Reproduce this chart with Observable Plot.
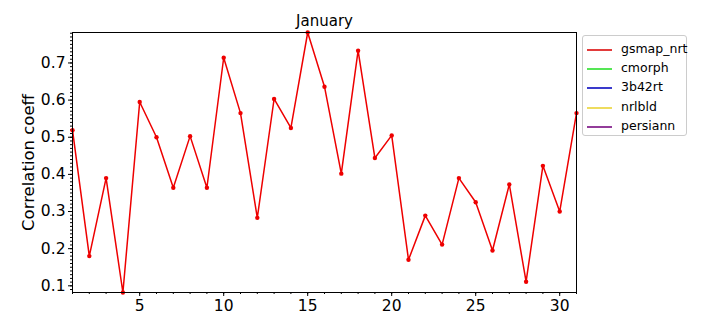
<!DOCTYPE html>
<html>
<head>
<meta charset="utf-8">
<script src="https://cdn.jsdelivr.net/npm/d3@7"></script>
<script src="https://cdn.jsdelivr.net/npm/@observablehq/plot@0.6"></script>
<style>
  html, body { margin: 0; padding: 0; background: #fff; }
  #wrap { position: relative; width: 720px; height: 324px; font-family: "DejaVu Sans", sans-serif; }
  #legend { position: absolute; left: 582px; top: 35px; width: 105px; height: 101px; border: 1px solid #cccccc; border-radius: 3px; background: #fff; box-sizing: border-box; }
  .item { position: absolute; left: 0; height: 19px; font-size: 12.5px; color: #000; }
  .item .sw { position: absolute; left: 4px; top: 9px; width: 25px; height: 2px; }
  .item .lb { position: absolute; left: 38px; top: 1px; white-space: nowrap; }
</style>
</head>
<body>
<div id="wrap"><div id="chart"></div><div id="legend"></div></div>
<script>
const days = d3.range(1, 32);
const gsmapNrt = [0.519, 0.180, 0.390, 0.082, 0.595, 0.500, 0.364, 0.503, 0.364, 0.714,
  0.565, 0.283, 0.603, 0.525, 0.782, 0.636, 0.402, 0.733, 0.444, 0.505,
  0.170, 0.289, 0.211, 0.390, 0.325, 0.195, 0.373, 0.111, 0.423, 0.300, 0.565];
const seriesNames = ["gsmap_nrt", "cmorph", "3b42rt", "nrlbld", "persiann"];
const legendColors = ["#e23b3b", "#55e655", "#3a3acc", "#eedc5e", "#933c9a"];
const xMajorTicks = [5, 10, 15, 20, 25, 30];
const yMajorTicks = [0.1, 0.2, 0.3, 0.4, 0.5, 0.6, 0.7];
const titleText = "January";
const yLabel = "Correlation coeff";

const data = days.map((d, i) => ({day: d, value: gsmapNrt[i]}));
const yMin = d3.min(gsmapNrt), yMax = d3.max(gsmapNrt);
const yMinor = d3.range(Math.ceil(yMin * 100), Math.floor(yMax * 100) + 1).map(v => v / 100);

const chart = Plot.plot({
  width: 720,
  height: 324,
  marginLeft: 72,
  marginRight: 144,
  marginTop: 32,
  marginBottom: 32,
  style: {fontFamily: "DejaVu Sans, sans-serif", fontSize: "15px", color: "#000", background: "#fff"},
  x: {domain: [1, 31]},
  y: {domain: [yMin, yMax]},
  marks: [
    Plot.axisX({ticks: days, tickSize: 2, text: null, label: null}),
    Plot.axisX({ticks: xMajorTicks, tickSize: 4, tickPadding: 3, label: null, fontSize: 15.5}),
    Plot.axisY({ticks: yMinor, tickSize: 2, text: null, label: null}),
    Plot.axisY({ticks: yMajorTicks, tickSize: 4, tickPadding: 3, tickFormat: d3.format(".1f"), label: null, fontSize: 15.5}),
    Plot.text([yLabel], {frameAnchor: "left", dx: -44, rotate: -90, textAnchor: "middle", lineAnchor: "middle", fontSize: 16.5}),
    Plot.text([titleText], {frameAnchor: "top", dy: -7, lineAnchor: "bottom", fontSize: 15}),
    Plot.line(data, {x: "day", y: "value", stroke: "#ee0000", strokeWidth: 1.5}),
    Plot.dot(data, {x: "day", y: "value", fill: "#ee0000", r: 2.2}),
    Plot.frame({stroke: "#000", strokeWidth: 1})
  ]
});
document.getElementById("chart").appendChild(chart);

const legend = document.getElementById("legend");
seriesNames.forEach((name, i) => {
  const it = document.createElement("div");
  it.className = "item";
  it.style.top = (4 + i * 19.2) + "px";
  it.style.width = "100%";
  it.innerHTML = `<div class="sw" style="background:${legendColors[i]}"></div><div class="lb">${name}</div>`;
  legend.appendChild(it);
});
</script>
</body>
</html>
